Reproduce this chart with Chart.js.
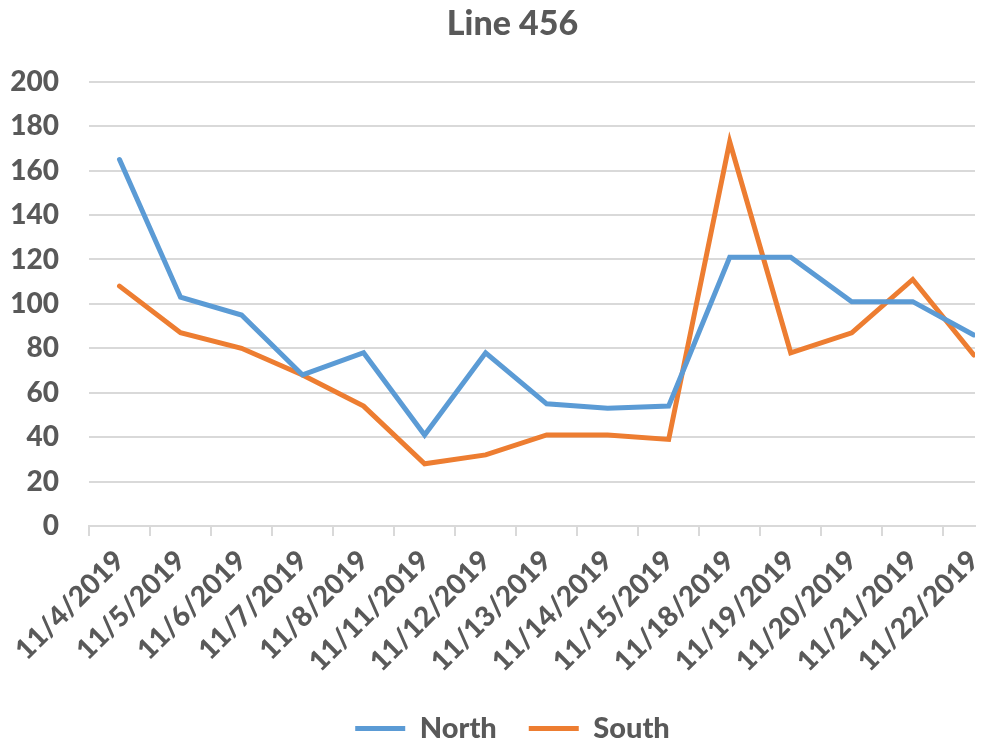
<!DOCTYPE html>
<html>
<head>
<meta charset="utf-8">
<script src="https://cdn.jsdelivr.net/npm/chart.js@4/dist/chart.umd.min.js"></script>
<style>
  html, body { margin: 0; padding: 0; background: #fff; }
  #wrap { width: 994px; height: 741px; }
</style>
</head>
<body>
<div id="wrap"><canvas id="chart"></canvas></div>
<script>
const dates = ["11/4/2019", "11/5/2019", "11/6/2019", "11/7/2019", "11/8/2019", "11/11/2019",
    "11/12/2019", "11/13/2019", "11/14/2019", "11/15/2019", "11/18/2019", "11/19/2019",
    "11/20/2019", "11/21/2019", "11/22/2019"];
const north = [165, 103, 95, 68, 78, 41, 78, 55, 53, 54, 121, 121, 101, 101, 86];
const south = [108, 87, 80, 68, 54, 28, 32, 41, 41, 39, 173, 78, 87, 111, 77];

const textColor = "#595959";
const font = { family: "Lato", weight: 900, size: 28 };

// x is the category index, so the last category can be cut off like the original plot area
const toPoints = (arr) => arr.map((v, i) => ({ x: i, y: v }));

// tick labels may spill outside their scale box (y labels sit left of the layout padding)
const noLabelClip = {
    id: "noLabelClip",
    afterLayout(chart) {
        Object.values(chart.scales).forEach((s) => { s._computeLabelArea = () => undefined; });
    }
};

new Chart(document.getElementById("chart"), {
    type: "line",
    data: {
        datasets: [
            { label: "North", data: toPoints(north), borderColor: "#5B9BD5", backgroundColor: "#5B9BD5",
              borderWidth: 5, pointRadius: 0, tension: 0, borderCapStyle: "round", pointStyle: "line" },
            { label: "South", data: toPoints(south), borderColor: "#ED7D31", backgroundColor: "#ED7D31",
              borderWidth: 5, pointRadius: 0, tension: 0, borderCapStyle: "round", pointStyle: "line" }
        ]
    },
    plugins: [noLabelClip],
    options: {
        responsive: true,
        maintainAspectRatio: false,
        animation: false,
        layout: { padding: { left: 50, right: 19, top: 0, bottom: -12 } },
        plugins: {
            title: {
                display: true,
                text: "Line 456",
                color: textColor,
                font: { family: "Lato", weight: 900, size: 34 },
                padding: { top: 4, bottom: 37 }
            },
            legend: {
                position: "bottom",
                labels: {
                    color: textColor,
                    font: { family: "Lato", weight: 900, size: 29 },
                    usePointStyle: true,
                    pointStyleWidth: 50,
                    boxHeight: 20,
                    padding: 32
                }
            },
            tooltip: { enabled: false }
        },
        scales: {
            x: {
                type: "linear",
                min: -0.5,
                max: 14.02,
                afterBuildTicks: (scale) => { scale.ticks = dates.map((d, i) => ({ value: i })); },
                grid: { offset: true, drawOnChartArea: false, drawTicks: true, tickLength: 10, color: "#d9d9d9", lineWidth: 2 },
                border: { color: "#d9d9d9", width: 2 },
                ticks: {
                    color: textColor, font: font, autoSkip: false, maxRotation: 45, minRotation: 45, padding: 8,
                    callback: (v) => dates[v]
                },
                afterFit: (scale) => {
                    scale.height = 156;
                    scale.paddingLeft = 0;
                    scale.paddingRight = 0;
                }
            },
            y: {
                min: 0,
                max: 200,
                ticks: { stepSize: 20, color: textColor, font: font, padding: 30 },
                grid: { color: "#d9d9d9", lineWidth: 2, drawTicks: false },
                border: { display: false },
                afterFit: (scale) => { scale.width = 39; }
            }
        }
    }
});
</script>
</body>
</html>
